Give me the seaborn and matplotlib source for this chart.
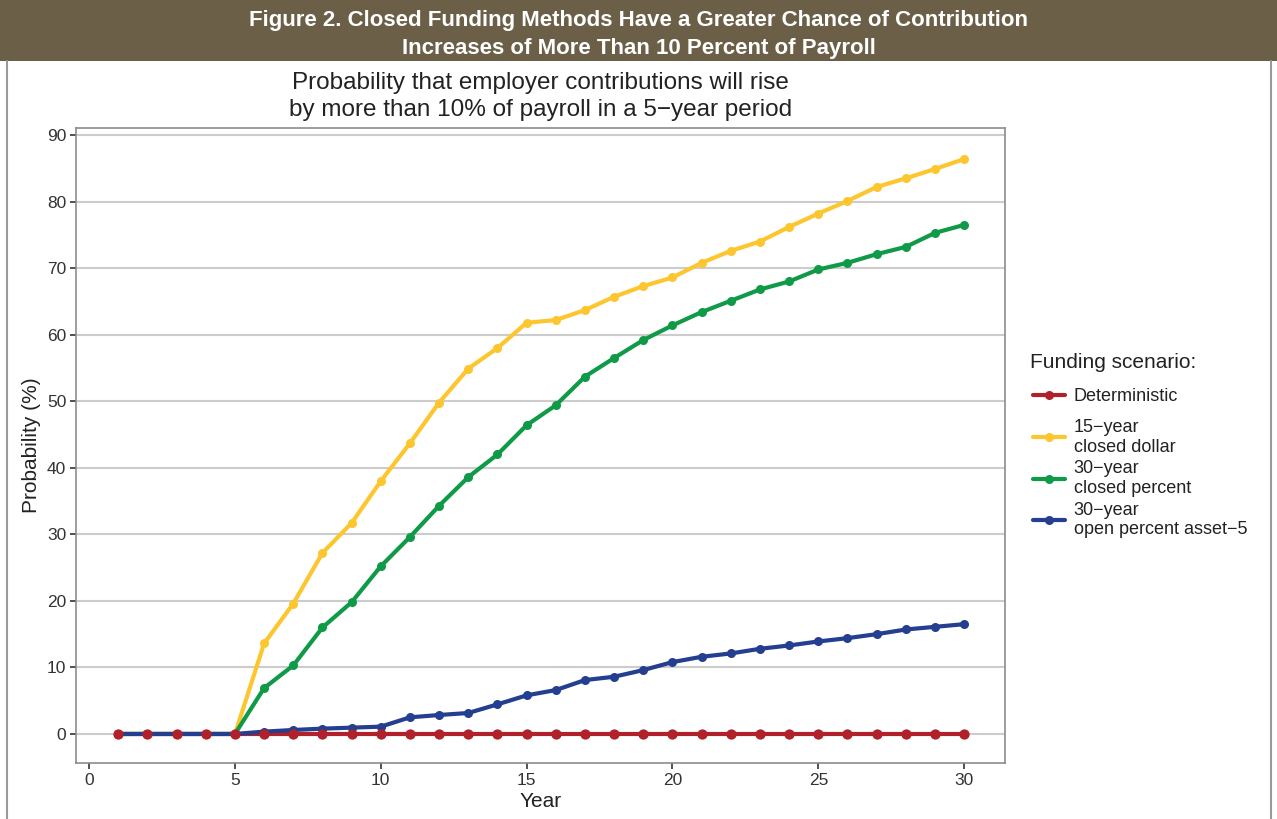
import numpy as np
import pandas as pd
import matplotlib.pyplot as plt
import seaborn as sns
from matplotlib.patches import Rectangle
from matplotlib.lines import Line2D

# Data

years = list(range(1, 31))

deterministic = [0.0] * 30

closed_dollar_15 = [0, 0, 0, 0, 0, 13.6, 19.6, 27.2, 31.7, 38.0,
                    43.7, 49.8, 54.9, 58.0, 61.8, 62.2, 63.7, 65.7, 67.3, 68.6,
                    70.8, 72.6, 74.0, 76.2, 78.2, 80.1, 82.2, 83.5, 84.9, 86.4]

closed_percent_30 = [0, 0, 0, 0, 0, 6.9, 10.3, 16.0, 19.8, 25.2,
                     29.6, 34.3, 38.6, 42.0, 46.4, 49.4, 53.7, 56.5, 59.2, 61.4,
                     63.4, 65.1, 66.8, 68.0, 69.8, 70.8, 72.1, 73.2, 75.3, 76.5]

open_percent_30 = [0, 0, 0, 0, 0, 0.35, 0.6, 0.8, 0.95, 1.1,
                   2.5, 2.85, 3.15, 4.45, 5.8, 6.6, 8.1, 8.6, 9.6, 10.8,
                   11.6, 12.1, 12.8, 13.3, 13.9, 14.4, 15.0, 15.7, 16.1, 16.5]

scenarios = ['Deterministic', '15\u2212year\nclosed dollar',
             '30\u2212year\nclosed percent', '30\u2212year\nopen percent asset\u22125']
colors = ['#B1212B', '#FDC62F', '#0F9A48', '#243E90']

df = pd.DataFrame({
    'Year': years * 4,
    'Probability': deterministic + closed_dollar_15 + closed_percent_30 + open_percent_30,
    'Scenario': [s for s in scenarios for _ in years],
})

sns.set_theme(style='white')
plt.rcParams['font.family'] = ['Liberation Sans', 'DejaVu Sans']

fig = plt.figure(figsize=(12.77, 8.19), dpi=100)
ax = fig.add_axes([0.0595, 0.0684, 0.7275, 0.7753])

sns.lineplot(data=df, x='Year', y='Probability', hue='Scenario', hue_order=scenarios,
             palette=colors, marker='o', markersize=6.5, markeredgewidth=0,
             linewidth=3, ax=ax, legend=False)

# red points sit on top in the original
sns.scatterplot(data=df[df['Scenario'] == scenarios[0]], x='Year', y='Probability',
                color=colors[0], s=55, linewidth=0, ax=ax, zorder=5, legend=False)

ax.set_xlim(-0.45, 31.4)
ax.set_ylim(-4.36, 91.06)
ax.set_xticks(range(0, 31, 5))
ax.set_yticks(range(0, 91, 10))
ax.grid(axis='y', color='#CCCCCC', linewidth=1.5)
ax.grid(axis='x', visible=False)
for sp in ax.spines.values():
    sp.set_color('#8C8C8C')
    sp.set_linewidth(1.2)
ax.tick_params(axis='both', which='both', direction='out', length=4, width=1.2,
               color='#333333', labelsize=12.5, labelcolor='#333333', pad=3,
               bottom=True, left=True)
ax.set_xlabel('Year', fontsize=15, color='#222222', labelpad=3)
ax.set_ylabel('Probability (%)', fontsize=15, color='#222222', labelpad=4)
ax.set_title('Probability that employer contributions will rise\n'
             'by more than 10% of payroll in a 5\u2212year period',
             fontsize=17.5, color='#222222', pad=9, linespacing=1.28)

# legend, split in two so the single-line entry gets the same row height
handles = [Line2D([0], [0], color=c, linewidth=3, marker='o', markersize=6.5,
                  markeredgewidth=0) for c in colors]
leg_kw = dict(loc='upper left', frameon=False, fontsize=13, handlelength=1.8,
              handletextpad=0.45, borderpad=0, borderaxespad=0)
leg1 = fig.legend(handles[:1], scenarios[:1], title='Funding scenario:',
                  bbox_to_anchor=(0.8089, 0.5692), title_fontsize=15, **leg_kw)
leg1._legend_box.align = 'left'
leg1._legend_box.sep = 12
leg1.get_title().set_color('#222222')
leg1.get_title().set_x(-3)
leg2 = fig.legend(handles[1:], scenarios[1:], bbox_to_anchor=(0.8089, 0.4884),
                  labelspacing=0.26, **leg_kw)
for lg in (leg1, leg2):
    for t in lg.get_texts():
        t.set_color('#222222')

# header band and side borders
fig.patches.append(Rectangle((0, 0.9255), 1, 0.0745, transform=fig.transFigure,
                             facecolor='#6B5F48', edgecolor='none', zorder=0))
fig.text(0.5, 0.958, 'Figure 2. Closed Funding Methods Have a Greater Chance of Contribution\n'
         'Increases of More Than 10 Percent of Payroll', ha='center', va='center',
         color='white', fontsize=16, fontweight='bold', linespacing=1.4)
fig.add_artist(Line2D([0.0055, 0.0055], [0, 0.9255], transform=fig.transFigure,
                      color='#9A9A9A', linewidth=1.5))
fig.add_artist(Line2D([0.9955, 0.9955], [0, 0.9255], transform=fig.transFigure,
                      color='#9A9A9A', linewidth=1.5))

fig.savefig('out.png', dpi=100)
